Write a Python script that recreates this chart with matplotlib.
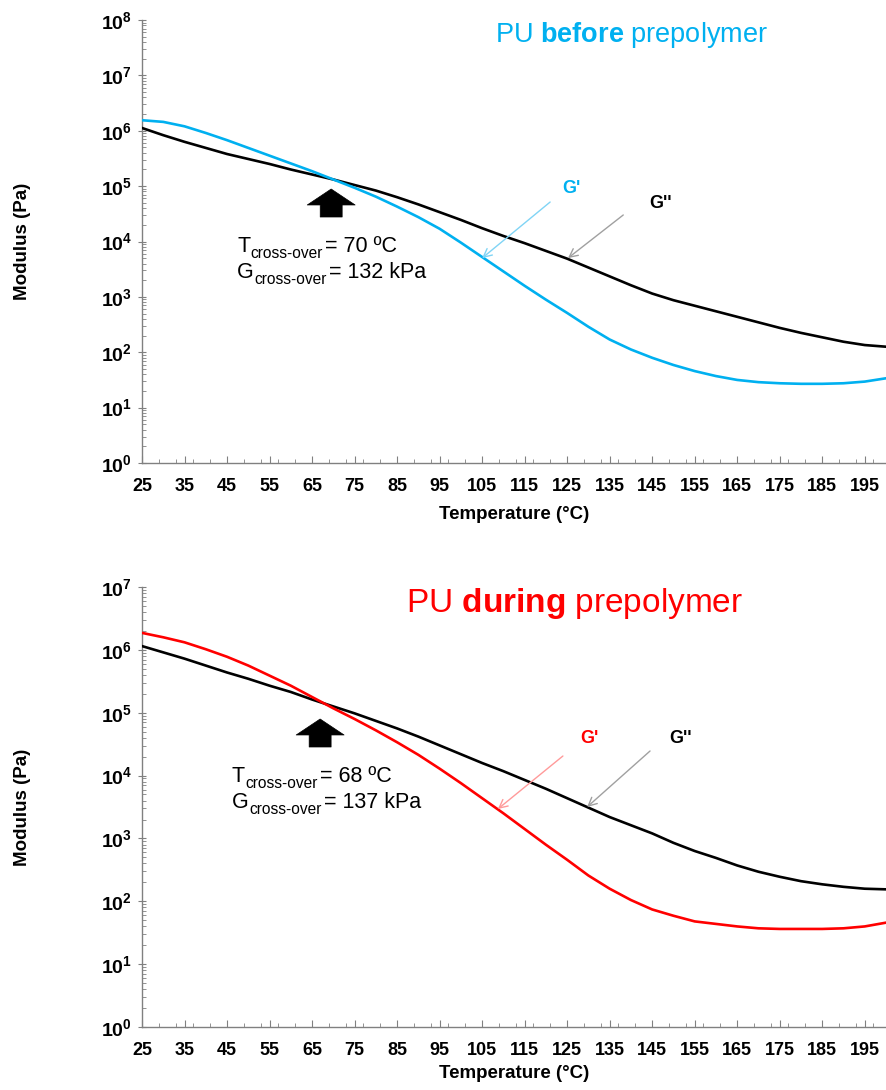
import numpy as np
import matplotlib
matplotlib.use("Agg")
import matplotlib.pyplot as plt
from matplotlib.ticker import FixedLocator, FuncFormatter, LogLocator, NullFormatter

plt.rcParams['font.family'] = ['Liberation Sans', 'DejaVu Sans']
plt.rcParams['mathtext.fontset'] = 'custom'
plt.rcParams['mathtext.rm'] = 'Liberation Sans'
plt.rcParams['mathtext.bf'] = 'Liberation Sans:bold'
plt.rcParams['mathtext.it'] = 'Liberation Sans:italic'

# ---------------- data ----------------
temperature = [25, 30, 35, 40, 45, 50, 55, 60, 65, 70, 75, 80, 85, 90, 95, 100,
               105, 110, 115, 120, 125, 130, 135, 140, 145, 150, 155, 160, 165,
               170, 175, 180, 185, 190, 195, 200]

# log10(modulus / Pa)
before_g2_log = [6.05, 5.92, 5.80, 5.69, 5.58, 5.49, 5.40, 5.30, 5.21, 5.12, 5.02,
                 4.92, 4.80, 4.67, 4.53, 4.39, 4.24, 4.10, 3.97, 3.83, 3.69, 3.53,
                 3.37, 3.21, 3.06, 2.94, 2.84, 2.74, 2.64, 2.54, 2.44, 2.35, 2.27,
                 2.19, 2.13, 2.10]
before_g1_log = [6.19, 6.16, 6.08, 5.96, 5.83, 5.69, 5.55, 5.41, 5.27, 5.12, 4.97,
                 4.81, 4.63, 4.44, 4.23, 3.98, 3.72, 3.46, 3.20, 2.95, 2.71, 2.46,
                 2.23, 2.05, 1.90, 1.77, 1.66, 1.57, 1.50, 1.46, 1.44, 1.43, 1.43,
                 1.44, 1.47, 1.53]
during_g2_log = [6.06, 5.96, 5.86, 5.75, 5.64, 5.54, 5.43, 5.33, 5.21, 5.10, 4.99,
                 4.87, 4.75, 4.62, 4.48, 4.34, 4.20, 4.07, 3.93, 3.79, 3.64, 3.49,
                 3.34, 3.21, 3.08, 2.93, 2.80, 2.69, 2.57, 2.47, 2.39, 2.32, 2.27,
                 2.23, 2.20, 2.19]
during_g1_log = [6.27, 6.20, 6.12, 6.01, 5.89, 5.75, 5.59, 5.43, 5.25, 5.07, 4.90,
                 4.72, 4.53, 4.33, 4.11, 3.88, 3.64, 3.40, 3.15, 2.90, 2.66, 2.41,
                 2.20, 2.02, 1.87, 1.77, 1.68, 1.64, 1.60, 1.57, 1.56, 1.56, 1.56,
                 1.57, 1.60, 1.66]

x_tick_values = list(range(25, 200, 10))
titles = [("PU ", "before", " prepolymer"), ("PU ", "during", " prepolymer")]
crossover_T = ["70 ºC", "68 ºC"]
crossover_G = ["132 kPa", "137 kPa"]
x_label = "Temperature (°C)"
y_label = "Modulus (Pa)"

W, H = 886, 1090
fig = plt.figure(figsize=(W / 100, H / 100), dpi=100)

CYAN = '#00B0F0'
RED = '#FF0000'
GRAY = '#808080'


def fy(py):
    return 1 - py / H


panels = [
    dict(rect=[142 / W, fy(463), 744 / W, (463 - 20) / H], ymax=8,
         g1=before_g1_log, g2=before_g2_log, color=CYAN, light='#80D4F5',
         title_xy=(631, 42), title_size=19.5,
         txt_xy=(237, 252), blk=(69.5, 4.948), xlabelpad=8,
         g1_arrow=((121.0, 4.713), (105.0, 3.70)), g2_arrow=((138.2, 4.479), (125.2, 3.70)),
         g1_lbl=(571, 193), g2_lbl=(660, 208)),
    dict(rect=[142 / W, fy(1027), 744 / W, (1027 - 587) / H], ymax=7,
         g1=during_g1_log, g2=during_g2_log, color=RED, light='#FF9A9A',
         title_xy=(575, 612), title_size=24,
         txt_xy=(232, 782), blk=(66.9, 4.90), xlabelpad=4,
         g1_arrow=((124.0, 4.311), (108.7, 3.468)), g2_arrow=((144.5, 4.391), (129.7, 3.50)),
         g1_lbl=(589, 743), g2_lbl=(680, 743)),
]

for i, p in enumerate(panels):
    ax = fig.add_axes(p['rect'])
    T = np.array(temperature)
    ax.plot(T, 10 ** np.array(p['g2']), color='black', lw=1.9, zorder=3)
    ax.plot(T, 10 ** np.array(p['g1']), color=p['color'], lw=1.9, zorder=3)
    ax.set_yscale('log')
    ax.set_ylim(1, 10 ** p['ymax'])
    ax.set_xlim(25, 200)

    for s in ['top', 'right']:
        ax.spines[s].set_visible(False)
    for s in ['left', 'bottom']:
        ax.spines[s].set_color(GRAY)
        ax.spines[s].set_linewidth(1.0)

    ax.yaxis.set_major_locator(LogLocator(base=10, numticks=20))
    ax.yaxis.set_minor_locator(LogLocator(base=10, subs=np.arange(2, 10), numticks=20))
    ax.yaxis.set_minor_formatter(NullFormatter())
    ax.yaxis.set_major_formatter(FuncFormatter(lambda v, pos: r'$\mathbf{10^{%d}}$' % int(round(np.log10(v)))))
    ax.xaxis.set_major_locator(FixedLocator(x_tick_values))
    ax.xaxis.set_minor_locator(FixedLocator(list(range(25, 201, 4))))

    ax.tick_params(axis='y', which='major', direction='inout', length=6, width=0.8,
                   color=GRAY, labelsize=14, pad=4)
    ax.tick_params(axis='y', which='minor', direction='in', length=3, width=0.6, color=GRAY)
    ax.tick_params(axis='x', which='major', direction='in', length=5, width=0.8,
                   color=GRAY, labelsize=13, pad=11)
    ax.tick_params(axis='x', which='minor', direction='in', length=3, width=0.6, color=GRAY)
    for lab in ax.get_xticklabels():
        lab.set_fontweight('bold')

    ax.set_xlabel(x_label, fontsize=13.5, fontweight='bold', labelpad=p['xlabelpad'])
    ax.set_ylabel(y_label, fontsize=13.5, fontweight='bold')
    ax.yaxis.set_label_coords((31 - 142) / 744, 0.5)

    # title (mixed weight)
    tx, ty = p['title_xy']
    a, b, c = titles[i]
    fig.text(tx / W, fy(ty), a + r'$\mathbf{' + b + '}$' + c, color=p['color'],
             fontsize=p['title_size'], ha='center', va='baseline')

    # cross-over text
    x0, y0 = p['txt_xy']
    for k, (main, val) in enumerate([("T", crossover_T[i]), ("G", crossover_G[i])]):
        yb = H - (y0 + 26 * k)
        t1 = ax.annotate(main, xy=(x0, yb), xycoords='figure pixels', fontsize=15.5,
                         va='baseline', ha='left', annotation_clip=False)
        t2 = ax.annotate("cross-over", xy=(1, yb), xycoords=(t1, 'figure pixels'),
                         xytext=(0.3, -4), textcoords='offset points', fontsize=11.2,
                         va='baseline', ha='left', annotation_clip=False)
        ax.annotate("= " + val, xy=(1, yb), xycoords=(t2, 'figure pixels'),
                    xytext=(1.5, 0), textcoords='offset points', fontsize=15.5,
                    va='baseline', ha='left', annotation_clip=False)

    # block arrow pointing at the cross-over
    bx, by = p['blk']
    ax.annotate('', xy=(bx, 10 ** by), xytext=(0, -28), textcoords='offset pixels',
                arrowprops=dict(arrowstyle='simple,head_length=1.15,head_width=3.45,tail_width=1.58',
                                fc='black', ec='black', lw=0.5, mutation_scale=10,
                                shrinkA=0, shrinkB=0), zorder=4)

    # G' and G'' pointers
    (ta, la), (tb, lb) = p['g1_arrow']
    ax.annotate('', xy=(tb, 10 ** lb), xytext=(ta, 10 ** la),
                arrowprops=dict(arrowstyle='->,head_length=0.6,head_width=0.3',
                                color=p['light'], lw=1.0, shrinkA=0, shrinkB=0))
    (ta, la), (tb, lb) = p['g2_arrow']
    ax.annotate('', xy=(tb, 10 ** lb), xytext=(ta, 10 ** la),
                arrowprops=dict(arrowstyle='->,head_length=0.6,head_width=0.3',
                                color='#A0A0A0', lw=1.0, shrinkA=0, shrinkB=0))
    gx, gy = p['g1_lbl']
    fig.text(gx / W, fy(gy), "G'", color=p['color'], fontsize=13, fontweight='bold',
             ha='center', va='baseline')
    gx, gy = p['g2_lbl']
    fig.text(gx / W, fy(gy), "G''", color='black', fontsize=13, fontweight='bold',
             ha='center', va='baseline')

fig.savefig('out.png', dpi=100)
